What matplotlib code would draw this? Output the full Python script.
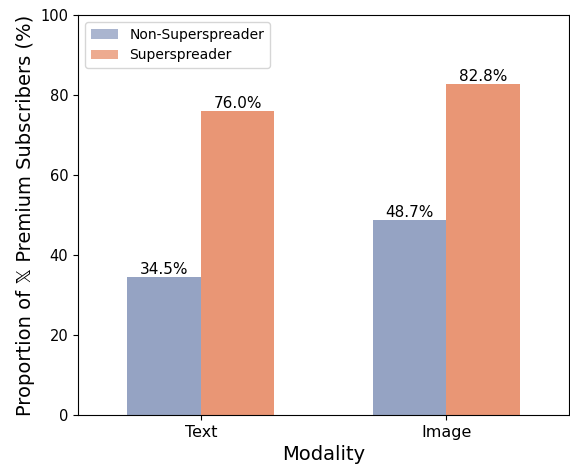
import matplotlib
matplotlib.use("Agg")
import matplotlib.pyplot as plt
import numpy as np

# Data
modalities = ["Text", "Image"]
non_super = [34.5, 48.7]
super_spr = [76.0, 82.8]

c_non = "#95a3c3"
c_sup = "#e99675"

fig, ax = plt.subplots(figsize=(5.7, 4.7), dpi=100)
x = np.arange(len(modalities))
w = 0.3
b1 = ax.bar(x - w / 2, non_super, w, color=c_non, label="Non-Superspreader")
b2 = ax.bar(x + w / 2, super_spr, w, color=c_sup, label="Superspreader")

for bars, vals in [(b1, non_super), (b2, super_spr)]:
    for b, v in zip(bars, vals):
        ax.text(b.get_x() + b.get_width() / 2, v, "%.1f%%" % v,
                ha="center", va="bottom", fontsize=11)

ax.set_xlim(-0.5, 1.5)
ax.set_ylim(0, 100)
ax.set_xticks(x)
ax.set_xticklabels(modalities, fontsize=11.5)
ax.tick_params(axis="y", labelsize=10.5)
ax.set_xlabel("Modality", fontsize=14)
ax.set_ylabel("Proportion of \U0001D54F Premium Subscribers (%)", fontsize=14)
leg = ax.legend(loc="upper left", fontsize=10)
for h in leg.legend_handles:
    h.set_alpha(0.8)

plt.subplots_adjust(left=0.137, right=0.998, top=0.968, bottom=0.117)
plt.savefig("out.png")
